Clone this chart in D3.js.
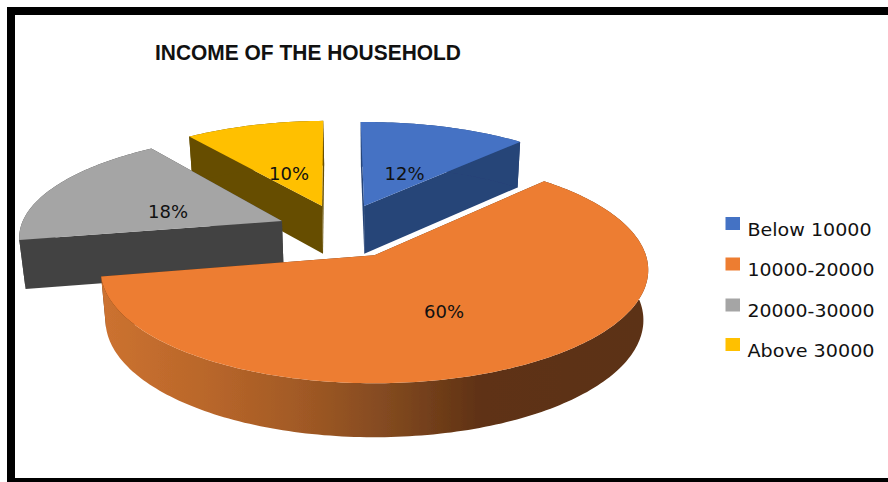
<!DOCTYPE html>
<html><head><meta charset="utf-8">
<script src="https://cdn.jsdelivr.net/npm/d3@7"></script>
<style>html,body{margin:0;padding:0;background:#fff}svg{display:block}</style>
</head><body><svg id="c" width="888" height="482"></svg>
<script>
const title = "INCOME OF THE HOUSEHOLD";
const categories = ["Below 10000","10000-20000","20000-30000","Above 30000"];
const shares = [12,60,18,10];
const topColors = ["#4472c4","#ed7d31","#a5a5a5","#ffc000"];
const wallColors = ["#264478","url(#rim)","#434343","#664e00"];

// layout constants (not data)
const W=888,H=482;
const cam={cx:375,cy:255,R:270,H:111.2,p:0.131,q:0.018,D:49.6};
const slices=[ {ou:-0.043,ov:0.468,ru:0.99,rv:0.95,rot:-0.02},
               {ou:-0.002,ov:-0.002,ru:1.005,rv:1.0,rot:0},
               {ou:-0.359,ov:0.318,ru:1.0,rv:0.96,rot:0},
               {ou:-0.208,ov:0.468,ru:0.98,rv:0.965,rot:-0.02} ];
const labelAt=[[404.5,180],[444,318],[168,218],[289,180]];
const legendY=[223.5,264,305,344.5];
const legendWidth=[124,127,127,127];
const paintOrder=[3,0,2,1];

const svg=d3.select("#c");
const defs=svg.append("defs");
const g0=defs.append("linearGradient").attr("id","rim").attr("gradientUnits","userSpaceOnUse")
  .attr("x1",102).attr("x2",648).attr("y1",0).attr("y2",0);
[[0,"#cc7230"],[0.2,"#b8662a"],[0.36,"#a25a25"],[0.52,"#834a20"],[0.7,"#5e3113"],[1,"#5c3013"]]
 .forEach(s=>g0.append("stop").attr("offset",s[0]).attr("stop-color",s[1]));
const f=defs.append("filter").attr("id","soft").attr("x","-5%").attr("y","-5%").attr("width","110%").attr("height","110%");
f.append("feGaussianBlur").attr("stdDeviation",0.55);

function project(u,v,z){
  const w=1+cam.p*v, sh=1+cam.q*z;
  return [cam.cx+cam.R*u/w/sh, cam.cy-cam.H*v/w+cam.D*z/Math.pow(w,0.6)];
}
const line=d3.line();
const pie=d3.pie().sort(null).startAngle(0).endAngle(2*Math.PI);
const arcs=pie(shares);

function outer(i,a,z){
  const s=slices[i],t=a+s.rot;
  return project(s.ou+s.ru*Math.sin(t),s.ov+s.rv*Math.cos(t),z);
}
function arcPts(i,z){
  const d=arcs[i],pts=[];
  const n=Math.ceil((d.endAngle-d.startAngle)/0.02);
  d3.range(n+1).forEach(k=>pts.push(outer(i,d.startAngle+(d.endAngle-d.startAngle)*k/n,z)));
  return pts;
}
const chart=svg.append("g").attr("filter","url(#soft)");
paintOrder.forEach(i=>{
  const s=slices[i],d=arcs[i];
  const apexT=project(s.ou,s.ov,0),apexB=project(s.ou,s.ov,1);
  const top=arcPts(i,0),bot=arcPts(i,1);
  const wall=wallColors[i];
  [d.startAngle,d.endAngle].forEach(a=>{
    chart.append("path").attr("fill",i===1?"#5c3013":wall)
      .attr("d",line([apexT,outer(i,a,0),outer(i,a,1),apexB])+"Z");
  });
  chart.append("path").attr("fill",wall).attr("d",line(top.concat(bot.slice().reverse()))+"Z");
  chart.append("path").attr("fill",topColors[i]).attr("d",line([apexT].concat(top))+"Z");
});

const ink="#111";
const font="'DejaVu Sans',sans-serif";
svg.append("text").attr("x",155).attr("y",60).attr("font-family","'Liberation Sans',sans-serif").attr("font-weight",700)
  .attr("font-size",21.5).attr("fill",ink).attr("textLength",306).attr("lengthAdjust","spacingAndGlyphs").text(title);

svg.append("g").selectAll("text").data(arcs).join("text")
  .attr("x",(d,i)=>labelAt[i][0]).attr("y",(d,i)=>labelAt[i][1]).attr("text-anchor","middle")
  .attr("font-family",font).attr("font-size",18).attr("fill",ink)
  .text(d=>d.data+"%");

const leg=svg.append("g").selectAll("g").data(categories).join("g")
  .attr("transform",(d,i)=>`translate(0,${legendY[i]})`);
leg.append("rect").attr("x",725.5).attr("y",-6.5).attr("width",14.5).attr("height",13).attr("fill",(d,i)=>topColors[i]);
leg.append("text").attr("x",747.5).attr("y",12).attr("font-family",font).attr("font-size",18).attr("fill",ink)
  .attr("textLength",(d,i)=>legendWidth[i]).attr("lengthAdjust","spacingAndGlyphs")
  .text(d=>d);

const frame=svg.append("g").attr("fill","#000");
frame.append("rect").attr("x",7).attr("y",7).attr("width",W-7).attr("height",8);
frame.append("rect").attr("x",7).attr("y",7).attr("width",8).attr("height",H-7);
frame.append("rect").attr("x",7).attr("y",478).attr("width",W-7).attr("height",4);
</script></body></html>
